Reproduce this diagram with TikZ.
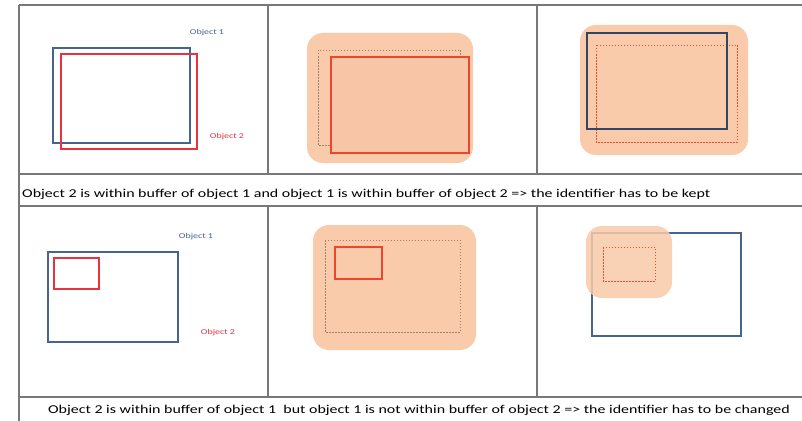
\documentclass[tikz,border=0pt]{standalone}
\usepackage{fontspec}
\setmainfont{Carlito}
\newfontfamily\widefont[FakeStretch=1.33]{Carlito}
\definecolor{gridc}{RGB}{120,120,120}
\definecolor{objblue}{RGB}{70,100,145}
\definecolor{objred}{RGB}{232,50,62}
\definecolor{buforange}{RGB}{249,203,170}
\definecolor{dashc}{RGB}{160,130,110}
\begin{document}
\begin{tikzpicture}[x=1pt,y=-1pt,
  grid/.style={draw=gridc,line width=1.4pt},
  blueobj/.style={draw=objblue,line width=1.3pt},
  redobj/.style={draw=objred,line width=1.5pt},
  buffer/.style={fill=buforange,rounded corners=16pt},
  dashbox/.style={draw=dashc,line width=0.6pt,dash pattern=on 1.5pt off 1.5pt},
  reddash/.style={draw=objred!70!orange,line width=0.6pt,dash pattern=on 1.5pt off 1.5pt},
  lblblue/.style={text=objblue,font=\widefont\fontsize{7.5}{8}\selectfont,inner sep=0pt},
  lblred/.style={text=objred,font=\widefont\fontsize{7.5}{8}\selectfont,inner sep=0pt},
  caption/.style={font=\widefont\fontsize{12}{14}\selectfont,inner sep=0pt}]
\useasboundingbox (0,0) rectangle (802,420);
\fill[white] (0,0) rectangle (802,420);
% table grid
\draw[grid] (19,5) -- (803,5);
\draw[grid] (19,174) -- (803,174);
\draw[grid] (19,206) -- (803,206);
\draw[grid] (19,397) -- (803,397);
\draw[grid] (19,5) -- (19,421);
\draw[grid] (268,5) -- (268,174);
\draw[grid] (537,5) -- (537,174);
\draw[grid] (268,206) -- (268,397);
\draw[grid] (537,206) -- (537,397);
% row 1, cell 1
\draw[blueobj] (53,48) rectangle (190,143);
\draw[redobj] (61,54) rectangle (197,149);
\node[lblblue] (l1a) at (207,33) {Object 1};
\node[lblred] (l1b) at (227,137) {Object 2};
% row 1, cell 2
\fill[buffer] (307,33) rectangle (473,163);
\draw[dashbox] (318,50) rectangle (460,145);
\draw[redobj,draw=objred!75!orange,fill=objred!4!buforange] (331,57) rectangle (469,153);
% row 1, cell 3
\fill[buffer] (580,25) rectangle (748,155);
\draw[reddash] (596,45) rectangle (737,142);
\draw[blueobj,draw=objblue!70!black] (587,33) rectangle (727,129);
% caption 1
\node[caption,anchor=west] (cap1) at (22,194) {Object 2 is within buffer of object 1 and object 1 is within buffer of object 2 => the identifier has to be kept};
% row 2, cell 1
\draw[blueobj] (48,252) rectangle (178,342);
\draw[redobj] (54,258) rectangle (99,289);
\node[lblblue] (l2a) at (196,237) {Object 1};
\node[lblred] (l2b) at (218,333) {Object 2};
% row 2, cell 2
\fill[buffer] (313,225) rectangle (476,350);
\draw[dashbox] (325,240) rectangle (460,332);
\draw[redobj,draw=objred!75!orange] (335,247) rectangle (382,279);
% row 2, cell 3
\draw[blueobj] (592,233) rectangle (741,336);
\fill[buffer,opacity=0.85] (586,226) rectangle (672,298);
\draw[reddash] (603,247) rectangle (655,281);
% caption 2
\node[caption] (cap2) at (419,410) {Object 2 is within buffer of object 1~ but object 1 is not within buffer of object 2 => the identifier has to be changed};
\end{tikzpicture}
\end{document}
